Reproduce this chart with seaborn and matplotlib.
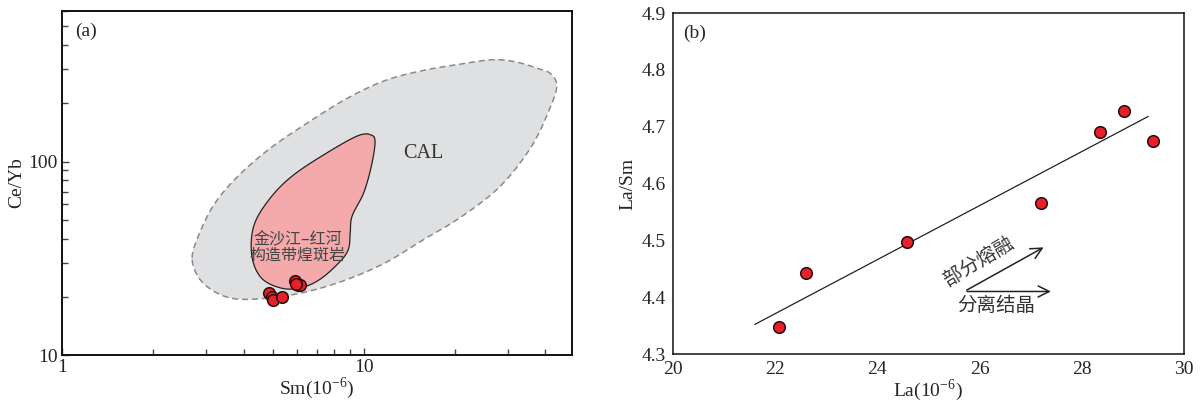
import numpy as np
import pandas as pd
import matplotlib
matplotlib.use("Agg")
import matplotlib.pyplot as plt
import seaborn as sns
from matplotlib.ticker import LogLocator, NullFormatter, FixedLocator, FixedFormatter

sns.set_theme(style="white")
plt.rcParams['font.family'] = ['Liberation Serif', 'Noto Sans CJK SC']
plt.rcParams['mathtext.fontset'] = 'stix'
plt.rcParams['axes.unicode_minus'] = False

# ---------- Panel (a) data ----------
sm_a = [4.86, 4.97, 5.00, 5.37, 5.93, 6.05, 6.17, 5.95]
ceyb_a = [20.9, 20.0, 19.3, 20.0, 24.2, 23.0, 23.0, 23.4]

# CAL field outline (Sm, Ce/Yb)
cal_sm = [2.70, 2.94, 3.62, 4.86, 6.53, 8.76, 11.75, 15.8, 21.2, 28.4, 36.0, 41.7,
          43.6, 41.7, 38.2, 32.0, 26.8, 21.2, 15.8, 11.75, 8.76, 6.53, 4.86, 3.84,
          3.22, 2.86]
cal_ceyb = [31.1, 23.5, 19.7, 19.7, 21.3, 24.5, 29.9, 39.5, 52.2, 74.8, 120, 194,
            247, 284, 301, 327, 336, 320, 296, 262, 211, 159, 116, 84.3, 61.2, 42.8]

# Jinshajiang-Red River lamprophyre field outline
lam_sm = [10.6, 10.9, 10.6, 10.0, 9.15, 9.02, 8.89, 8.26, 7.13, 6.15, 5.31, 4.58,
          4.26, 4.32, 4.86, 5.80, 7.56, 9.57]
lam_ceyb = [137, 125.6, 94.9, 69.0, 52.2, 42.8, 35.1, 29.9, 24.5, 22.2, 22.2, 25.0,
            32.4, 46.4, 63.7, 84.3, 111, 136]

# ---------- Panel (b) data ----------
la_b = [22.08, 22.60, 24.58, 27.20, 28.35, 28.82, 29.40]
lasm_b = [4.347, 4.443, 4.497, 4.566, 4.691, 4.728, 4.674]
fit_x = [21.6, 29.3]
fit_y = [4.352, 4.718]

xticks_b = [20, 22, 24, 26, 28, 30]
yticks_b = [4.3, 4.4, 4.5, 4.6, 4.7, 4.8, 4.9]

cjk = ['Noto Sans CJK SC', 'DejaVu Sans']


def smooth_closed(xs, ys, n=12):
    """Closed Catmull-Rom outline through the field vertices, in log space."""
    px = np.log10(np.asarray(xs, float))
    py = np.log10(np.asarray(ys, float))
    m = len(px)
    outx, outy = [], []
    t = np.linspace(0, 1, n, endpoint=False)
    for i in range(m):
        p0 = np.array([px[(i - 1) % m], py[(i - 1) % m]])
        p1 = np.array([px[i], py[i]])
        p2 = np.array([px[(i + 1) % m], py[(i + 1) % m]])
        p3 = np.array([px[(i + 2) % m], py[(i + 2) % m]])
        for tt in t:
            pt = 0.5 * ((2 * p1) + (-p0 + p2) * tt +
                        (2 * p0 - 5 * p1 + 4 * p2 - p3) * tt ** 2 +
                        (-p0 + 3 * p1 - 3 * p2 + p3) * tt ** 3)
            outx.append(pt[0])
            outy.append(pt[1])
    return 10 ** np.array(outx), 10 ** np.array(outy)


fig = plt.figure(figsize=(12.02, 4.01), dpi=100)
W, H = 1202, 401
ax1 = fig.add_axes([62 / W, (H - 355) / H, 510 / W, 344 / H])
ax2 = fig.add_axes([673 / W, (H - 354) / H, 511 / W, 341 / H])

# ----- Panel (a) -----
ax1.set_xscale('log')
ax1.set_yscale('log')
cx, cy = smooth_closed(cal_sm, cal_ceyb)
ax1.fill(cx, cy, facecolor='#dfe0e2', edgecolor='#8a8a8a',
         linestyle=(0, (4, 2.5)), linewidth=1.1, zorder=1)
lx, ly = smooth_closed(lam_sm, lam_ceyb)
ax1.fill(lx, ly, facecolor='#f4aaaa', edgecolor='#222222',
         linewidth=0.9, zorder=2)
dfa = pd.DataFrame({'Sm': sm_a, 'CeYb': ceyb_a})
sns.scatterplot(data=dfa, x='Sm', y='CeYb', ax=ax1, s=70, color='#e8202a',
                edgecolor='#2a0a0a', linewidth=1.1, zorder=5, legend=False)
ax1.set_xlim(1, 49)
ax1.set_ylim(10, 600)
ax1.xaxis.set_major_locator(FixedLocator([1, 10]))
ax1.xaxis.set_major_formatter(FixedFormatter(['1', '10']))
ax1.yaxis.set_major_locator(FixedLocator([10, 100]))
ax1.yaxis.set_major_formatter(FixedFormatter(['10', '100']))
ax1.xaxis.set_minor_locator(LogLocator(base=10, subs=np.arange(2, 10)))
ax1.yaxis.set_minor_locator(LogLocator(base=10, subs=np.arange(2, 10)))
ax1.xaxis.set_minor_formatter(NullFormatter())
ax1.yaxis.set_minor_formatter(NullFormatter())
ax1.tick_params(which='both', direction='in', color='#444444', labelsize=14,
                pad=3)
ax1.tick_params(which='major', length=5, width=1)
ax1.tick_params(which='minor', length=4, width=1)
ax1.tick_params(axis='x', which='both', bottom=True)
ax1.tick_params(axis='y', which='both', left=True)
ax1.set_xlabel('Sm(10$^{\\mathregular{-6}}$)', fontsize=14, labelpad=0)
ax1.set_ylabel('Ce/Yb', fontsize=14, labelpad=2)
ax1.text(15.8, 110, 'CAL', fontsize=14.5, color='#333333', ha='center',
         va='center')
ax1.text(6.05, 39.5, '金沙江–红河', fontsize=11.5, color='#444444', ha='center',
         va='center', family=cjk, fontweight='light')
ax1.text(6.05, 33.0, '构造带煌斑岩', fontsize=11.5, color='#444444', ha='center',
         va='center', family=cjk, fontweight='light')
ax1.text(0.025, 0.965, '(a)', transform=ax1.transAxes, fontsize=14, ha='left',
         va='top')
for sp in ax1.spines.values():
    sp.set_color('#111111')
    sp.set_linewidth(1.4)

# ----- Panel (b) -----
dfb = pd.DataFrame({'La': la_b, 'LaSm': lasm_b})
sns.lineplot(x=fit_x, y=fit_y, ax=ax2, color='#222222', linewidth=0.9, zorder=2)
sns.scatterplot(data=dfb, x='La', y='LaSm', ax=ax2, s=70, color='#e8202a',
                edgecolor='#2a0a0a', linewidth=1.1, zorder=5, legend=False)
ax2.set_xlim(20, 30)
ax2.set_ylim(4.3, 4.9)
ax2.set_xticks(xticks_b)
ax2.set_xticklabels([str(v) for v in xticks_b])
ax2.set_yticks(yticks_b)
ax2.set_yticklabels([f'{v:.1f}' for v in yticks_b])
ax2.tick_params(which='both', length=0, labelsize=14, pad=5)
ax2.set_xlabel('La(10$^{\\mathregular{-6}}$)', fontsize=14, labelpad=0)
ax2.set_ylabel('La/Sm', fontsize=14, labelpad=4)
ax2.text(0.02, 0.965, '(b)', transform=ax2.transAxes, fontsize=14, ha='left',
         va='top')
ax2.annotate('', xy=(27.3, 4.49), xytext=(25.7, 4.41),
             arrowprops=dict(arrowstyle='->', color='#222222', lw=1.1,
                             mutation_scale=20))
ax2.annotate('', xy=(27.45, 4.41), xytext=(25.7, 4.41),
             arrowprops=dict(arrowstyle='->', color='#222222', lw=1.1,
                             mutation_scale=20))
ax2.text(25.98, 4.463, '部分熔融', rotation=31, fontsize=14, color='#333333',
         ha='center', va='center', family=cjk, rotation_mode='anchor',
         fontweight='light')
ax2.text(26.32, 4.385, '分离结晶', fontsize=14, color='#333333', ha='center',
         va='center', family=cjk, fontweight='light')
for sp in ax2.spines.values():
    sp.set_color('#111111')
    sp.set_linewidth(1.1)

fig.savefig('out.png', dpi=100)
